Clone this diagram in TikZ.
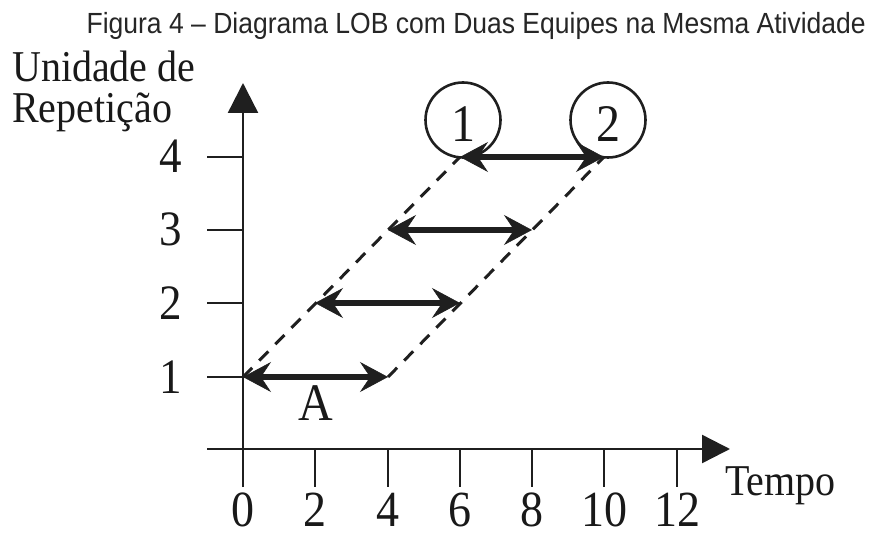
\documentclass[tikz,border=0pt]{standalone}
\usepackage{fontspec}
\usepackage{graphicx}
\setmainfont{Liberation Serif}
\newfontfamily\titlefont{Liberation Sans}
\usetikzlibrary{arrows.meta}
\newcommand{\tallr}[1]{\scalebox{1}[1.1]{#1}}
\begin{document}
\begin{tikzpicture}[x=1pt,y=-1pt,
  ink/.style={draw=black!88},
  axisline/.style={ink, line width=2.4pt},
  tickline/.style={ink, line width=2.4pt},
  crewarrow/.style={ink, line width=6pt,
    {Stealth[length=28pt,width=30pt,inset=10pt,line width=0.6pt]}-{Stealth[length=28pt,width=30pt,inset=10pt,line width=0.6pt]}},
  dashline/.style={ink, line width=3pt, dash pattern=on 13pt off 10pt},
  bigtxt/.style={font=\fontsize{48}{48}\selectfont, inner sep=0pt, anchor=base, text=black!90},
  ylab/.style={font=\fontsize{45}{45}\selectfont, inner sep=0pt, anchor=base, text=black!90},
  xlab/.style={font=\fontsize{46}{46}\selectfont, inner sep=0pt, anchor=base, text=black!90},
  wordlab/.style={font=\fontsize{40}{40}\selectfont, anchor=base west, inner sep=0pt, text=black!90},
  crewcircle/.style={ink, circle, line width=2.6pt, minimum size=75pt, inner sep=0pt},
]
\useasboundingbox (0,0) rectangle (875,537);

% title
\node[font=\titlefont\fontsize{26.5}{26.5}\selectfont, anchor=base east, inner sep=0pt, text=black!85] (title) at (866,34) {\tallr{Figura 4 – Diagrama LOB com Duas Equipes na Mesma Atividade}};

% axis labels
\node[wordlab] (ylab1) at (12,82) {\tallr{Unidade de}};
\node[wordlab] (ylab2) at (12,123) {\tallr{Repetição}};
\node[wordlab] (xlabel) at (725,495) {\tallr{Tempo}};

% axes
\coordinate (ybot) at (243,487);
\coordinate (ytop) at (243,83);
\coordinate (xleft) at (207,449);
\coordinate (xright) at (730,449);
\draw[axisline, -{Triangle[length=30pt,width=30pt]}] (ybot) -- (ytop);
\draw[axisline, -{Triangle[length=28pt,width=28pt]}] (xleft) -- (xright);

% x ticks
\foreach \v/\px in {2/315,4/388,6/460,8/532,10/604,12/677}{
  \coordinate (xt\v a) at (\px,449);
  \coordinate (xt\v b) at (\px,487);
  \draw[tickline] (xt\v a) -- (xt\v b);
}
\foreach \v/\px in {0/243,2/315,4/388,6/460,8/532,10/604,12/677}{
  \node[xlab] (xl\v) at (\px,526) {\tallr{\v}};
}

% y ticks
\foreach \v/\py in {1/377,2/303,3/230,4/157}{
  \coordinate (yt\v a) at (207,\py);
  \coordinate (yt\v b) at (243,\py);
  \draw[tickline] (yt\v a) -- (yt\v b);
  \node[ylab] (yl\v) at (171,\py+16) {\tallr{\v}};
}

% points
\coordinate (s1) at (243,377);
\coordinate (e1) at (388,377);
\coordinate (s2) at (315,303);
\coordinate (e2) at (460,303);
\coordinate (s3) at (388,230);
\coordinate (e3) at (532,230);
\coordinate (s4) at (460,157);
\coordinate (e4) at (604,157);

% dashed lines
\draw[dashline] (s1) -- (s4);
\draw[dashline] (e1) -- (e4);

% crew arrows
\draw[crewarrow] (s1) -- (e1);
\draw[crewarrow] (s2) -- (e2);
\draw[crewarrow] (s3) -- (e3);
\draw[crewarrow] (s4) -- (e4);

% activity label
\node[bigtxt] (actA) at (316,420) {\tallr{A}};

% crew circles
\node[crewcircle] (c1) at (463,120) {};
\node[crewcircle] (c2) at (608,120) {};
\node[bigtxt] (n1) at (463,142) {\tallr{1}};
\node[bigtxt] (n2) at (608,142) {\tallr{2}};
\end{tikzpicture}
\end{document}
